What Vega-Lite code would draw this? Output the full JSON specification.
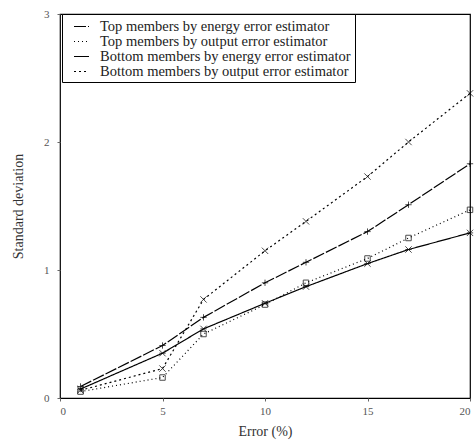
{
  "$schema": "https://vega.github.io/schema/vega-lite/v6.json",
  "width": 410,
  "height": 384,
  "autosize": {"type": "none"},
  "padding": {"left": 60, "top": 14, "right": 6, "bottom": 50},
  "background": "white",
  "config": {
    "view": {"stroke": "black", "strokeWidth": 1.2},
    "font": "Liberation Serif",
    "axis": {"grid": false, "domain": false, "labelFont": "Liberation Serif", "titleFont": "Liberation Serif", "labelColor": "#555", "titleColor": "#333", "labelFontSize": 11, "titleFontSize": 14, "titleFontWeight": "normal", "tickColor": "#666", "tickSize": 3}
  },
  "data": {"values": [
    {"err": 1, "sd": 0.09, "series": "Top members by energy error estimator"},
    {"err": 5, "sd": 0.41, "series": "Top members by energy error estimator"},
    {"err": 7, "sd": 0.63, "series": "Top members by energy error estimator"},
    {"err": 10, "sd": 0.9, "series": "Top members by energy error estimator"},
    {"err": 12, "sd": 1.06, "series": "Top members by energy error estimator"},
    {"err": 15, "sd": 1.3, "series": "Top members by energy error estimator"},
    {"err": 17, "sd": 1.51, "series": "Top members by energy error estimator"},
    {"err": 20, "sd": 1.83, "series": "Top members by energy error estimator"},
    {"err": 1, "sd": 0.05, "series": "Top members by output error estimator"},
    {"err": 5, "sd": 0.16, "series": "Top members by output error estimator"},
    {"err": 7, "sd": 0.5, "series": "Top members by output error estimator"},
    {"err": 10, "sd": 0.73, "series": "Top members by output error estimator"},
    {"err": 12, "sd": 0.9, "series": "Top members by output error estimator"},
    {"err": 15, "sd": 1.09, "series": "Top members by output error estimator"},
    {"err": 17, "sd": 1.25, "series": "Top members by output error estimator"},
    {"err": 20, "sd": 1.47, "series": "Top members by output error estimator"},
    {"err": 1, "sd": 0.07, "series": "Bottom members by energy error estimator"},
    {"err": 5, "sd": 0.35, "series": "Bottom members by energy error estimator"},
    {"err": 7, "sd": 0.54, "series": "Bottom members by energy error estimator"},
    {"err": 10, "sd": 0.74, "series": "Bottom members by energy error estimator"},
    {"err": 12, "sd": 0.87, "series": "Bottom members by energy error estimator"},
    {"err": 15, "sd": 1.05, "series": "Bottom members by energy error estimator"},
    {"err": 17, "sd": 1.16, "series": "Bottom members by energy error estimator"},
    {"err": 20, "sd": 1.29, "series": "Bottom members by energy error estimator"},
    {"err": 1, "sd": 0.06, "series": "Bottom members by output error estimator"},
    {"err": 5, "sd": 0.23, "series": "Bottom members by output error estimator"},
    {"err": 7, "sd": 0.77, "series": "Bottom members by output error estimator"},
    {"err": 10, "sd": 1.15, "series": "Bottom members by output error estimator"},
    {"err": 12, "sd": 1.38, "series": "Bottom members by output error estimator"},
    {"err": 15, "sd": 1.73, "series": "Bottom members by output error estimator"},
    {"err": 17, "sd": 2.0, "series": "Bottom members by output error estimator"},
    {"err": 20, "sd": 2.38, "series": "Bottom members by output error estimator"}
  ]},
  "encoding": {
    "x": {"field": "err", "type": "quantitative", "scale": {"domain": [0, 20], "nice": false}, "axis": {"title": "Error (%)", "values": [0, 5, 10, 15, 20], "labelPadding": 4, "titlePadding": 8}},
    "y": {"field": "sd", "type": "quantitative", "scale": {"domain": [0, 3], "nice": false}, "axis": {"title": "Standard deviation", "values": [0, 1, 2, 3], "labelPadding": 8, "titlePadding": 18}}
  },
  "layer": [
    {
      "mark": {"type": "line", "color": "black", "strokeWidth": 1.2},
      "encoding": {
        "strokeDash": {"field": "series", "type": "nominal",
          "scale": {"domain": ["Top members by energy error estimator", "Top members by output error estimator", "Bottom members by energy error estimator", "Bottom members by output error estimator"],
                    "range": [[12, 2], [1, 3], [1, 0], [2, 3]]},
          "legend": {"title": null, "orient": "none", "legendX": 2, "legendY": 0, "symbolType": "M-1,0L1,0", "symbolSize": 225, "symbolStrokeColor": "black", "symbolStrokeWidth": 1.2, "symbolOffset": 7, "labelFont": "Liberation Serif", "labelFontSize": 14.5, "labelColor": "#222", "labelLimit": 400, "rowPadding": -2, "strokeColor": "black", "padding": 4, "fillColor": "white", "labelOffset": 10}
        }
      }
    },
    {
      "transform": [{"filter": "datum.series == 'Top members by energy error estimator'"}],
      "mark": {"type": "point", "filled": false, "color": "black", "size": 40, "strokeWidth": 1, "shape": "M-1,0L1,0M0,-1L0,1"}
    },
    {
      "transform": [{"filter": "datum.series == 'Top members by output error estimator'"}],
      "mark": {"type": "point", "filled": false, "color": "black", "size": 30, "strokeWidth": 1, "shape": "square"}
    },
    {
      "transform": [{"filter": "datum.series == 'Bottom members by energy error estimator'"}],
      "mark": {"type": "point", "filled": false, "color": "black", "size": 40, "strokeWidth": 1, "shape": "M-1,-1L1,1M-1,1L1,-1M-1,0L1,0"}
    },
    {
      "transform": [{"filter": "datum.series == 'Bottom members by output error estimator'"}],
      "mark": {"type": "point", "filled": false, "color": "black", "size": 40, "strokeWidth": 1, "shape": "M-1,-1L1,1M-1,1L1,-1"}
    }
  ]
}
